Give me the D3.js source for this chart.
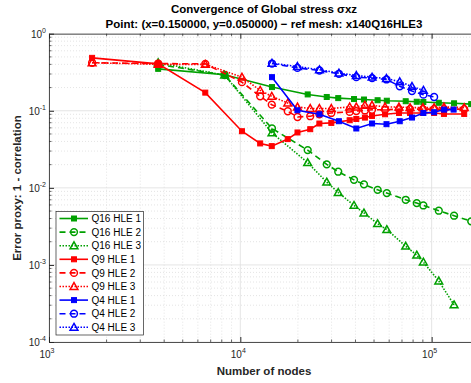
<!DOCTYPE html>
<html><head><meta charset="utf-8">
<script src="https://cdn.jsdelivr.net/npm/d3@7"></script>
<style>body{margin:0;background:#fff}svg{display:block;font-family:"Liberation Sans",Arial,sans-serif}</style>
</head><body><svg id="c" width="471" height="383"></svg>
<script>
// ---- data ----
const titleLines = ["Convergence of Global stress σxz", "Point: (x=0.150000, y=0.050000) − ref mesh: x140Q16HLE3"];
const xLabel = "Number of nodes";
const yLabel = "Error proxy: 1 - correlation";
const xTickExps = [3, 4, 5];
const yTickExps = [0, -1, -2, -3, -4];

const q16Nodes = [3721, 8281, 14641, 22500, 28300, 32500, 39300, 44300, 52200, 58300, 73200, 83600, 90500, 109000, 131000, 161000];
const q16Hle1 = [0.35, 0.293, 0.203, 0.163, 0.151, 0.146, 0.142, 0.140, 0.137, 0.135, 0.133, 0.131, 0.130, 0.127, 0.125, 0.122];
const q16Hle2 = [0.40, 0.29, 0.0589, 0.0309, 0.0202, 0.0162, 0.0127, 0.0111, 0.00942, 0.00855, 0.0070, 0.00634, 0.00591, 0.00505, 0.00435, 0.00368];
const q16Hle3 = [0.42, 0.29, 0.0517, 0.0212, 0.01186, 0.0087, 0.00592, 0.00472, 0.00343, 0.00287, 0.00175, 0.00134, 0.00109, 0.000618, 0.000303];

const q9Nodes = [1680, 3720, 6560, 10200, 12700, 14600, 17700, 19900, 23200, 25900, 29900, 37300, 40400, 44800, 48800, 57100, 67500, 77100, 90000, 103000, 116000, 148000];
const q9Hle1 = [0.486, 0.406, 0.172, 0.0543, 0.0377, 0.0348, 0.0429, 0.0523, 0.0577, 0.0683, 0.0696, 0.0754, 0.0783, 0.0816, 0.0857, 0.0901, 0.0937, 0.0937, 0.0937, 0.0937, 0.091, 0.091];
const q9Hle2 = [0.42, 0.41, 0.406, 0.235, 0.154, 0.120, 0.0986, 0.083, 0.085, 0.090, 0.0937, 0.0966, 0.099, 0.101, 0.103, 0.103, 0.105, 0.105, 0.105, 0.105, 0.105, 0.105];
const q9Hle3 = [0.42, 0.40, 0.40, 0.273, 0.184, 0.154, 0.126, 0.112, 0.107, 0.107, 0.107, 0.112, 0.112, 0.118, 0.118, 0.112, 0.112, 0.11, 0.11, 0.11, 0.112, 0.11];

const q4Nodes = [14641, 19881, 25921, 32761, 40401, 48841, 58081, 68121, 78961, 90601, 103041, 116281, 130321];
const q4Hle1 = [0.273, 0.1015, 0.090, 0.0732, 0.0589, 0.0684, 0.067, 0.0732, 0.0817, 0.0937, 0.0957, 0.1036, 0.1036];
const q4Hle2 = [0.41, 0.36, 0.333, 0.302, 0.273, 0.265, 0.255, 0.208, 0.18, 0.162, 0.151];
const q4Hle3 = [0.414, 0.375, 0.340, 0.308, 0.287, 0.273, 0.262, 0.238, 0.207, 0.184];

const seriesNames = ["Q16 HLE 1","Q16 HLE 2","Q16 HLE 3","Q9 HLE 1","Q9 HLE 2","Q9 HLE 3","Q4 HLE 1","Q4 HLE 2","Q4 HLE 3"];

// ---- build ----
const GREEN = "#00a000", RED = "#ff0000", BLUE = "#0000ff";
const styles = {
  1: {dash: null, marker: "square"},
  2: {dash: "6,4", marker: "circle"},
  3: {dash: "1.5,1.5", marker: "triangle"}
};
const series = [
  {name: seriesNames[0], nodes: q16Nodes, vals: q16Hle1, color: GREEN, s: 1},
  {name: seriesNames[1], nodes: q16Nodes, vals: q16Hle2, color: GREEN, s: 2},
  {name: seriesNames[2], nodes: q16Nodes, vals: q16Hle3, color: GREEN, s: 3},
  {name: seriesNames[3], nodes: q9Nodes, vals: q9Hle1, color: RED, s: 1},
  {name: seriesNames[4], nodes: q9Nodes, vals: q9Hle2, color: RED, s: 2},
  {name: seriesNames[5], nodes: q9Nodes, vals: q9Hle3, color: RED, s: 3},
  {name: seriesNames[6], nodes: q4Nodes, vals: q4Hle1, color: BLUE, s: 1},
  {name: seriesNames[7], nodes: q4Nodes, vals: q4Hle2, color: BLUE, s: 2},
  {name: seriesNames[8], nodes: q4Nodes, vals: q4Hle3, color: BLUE, s: 3}
];

const L = 49, R = 480, T = 33.7, B = 342;
const x = d3.scaleLog().domain([1e3, 1.79e5]).range([L, R]);
const y = d3.scaleLog().domain([1e-4, 1]).range([B, T]);
const svg = d3.select("#c");

// grid
const g = svg.append("g");
const xMinor = [], yMinor = [];
for (let e = 3; e <= 5; e++) for (let k = 2; k <= 9; k++) { const v = k * Math.pow(10, e); if (v < 1.79e5) xMinor.push(v); }
for (let e = -4; e <= -1; e++) for (let k = 2; k <= 9; k++) yMinor.push(k * Math.pow(10, e));
g.selectAll(".xm").data(xMinor).enter().append("line")
  .attr("x1", d => x(d)).attr("x2", d => x(d)).attr("y1", T).attr("y2", B)
  .attr("stroke", "#d8d8d8").attr("stroke-width", 0.7).attr("stroke-dasharray", "1,2");
g.selectAll(".ym").data(yMinor).enter().append("line")
  .attr("y1", d => y(d)).attr("y2", d => y(d)).attr("x1", L).attr("x2", R)
  .attr("stroke", "#d8d8d8").attr("stroke-width", 0.7).attr("stroke-dasharray", "1,2");
g.selectAll(".xM").data(xTickExps.map(e => Math.pow(10, e))).enter().append("line")
  .attr("x1", d => x(d)).attr("x2", d => x(d)).attr("y1", T).attr("y2", B)
  .attr("stroke", "#dedede").attr("stroke-width", 0.8);
g.selectAll(".yM").data(yTickExps.map(e => Math.pow(10, e))).enter().append("line")
  .attr("y1", d => y(d)).attr("y2", d => y(d)).attr("x1", L).attr("x2", R)
  .attr("stroke", "#dedede").attr("stroke-width", 0.8);

// axes
const axCol = "#262626";
const xAxB = d3.axisBottom(x).tickValues(xTickExps.map(e => Math.pow(10, e))).tickFormat("").tickSizeInner(-5).tickSizeOuter(0);
const xAxT = d3.axisTop(x).tickValues(xTickExps.map(e => Math.pow(10, e))).tickFormat("").tickSizeInner(-5).tickSizeOuter(0);
const yAxL = d3.axisLeft(y).tickValues(yTickExps.map(e => Math.pow(10, e))).tickFormat("").tickSizeInner(-5).tickSizeOuter(0);
function styleAxis(sel) { sel.selectAll("path,line").attr("stroke", axCol); sel.select("path").attr("stroke-width", 0.8); }
svg.append("g").attr("transform", `translate(0,${B})`).call(xAxB).call(styleAxis);
svg.append("g").attr("transform", `translate(0,${T})`).call(xAxT).call(styleAxis);
svg.append("g").attr("transform", `translate(${L},0)`).call(yAxL).call(styleAxis);
// minor ticks
svg.append("g").selectAll("line").data(xMinor).enter().append("line")
  .attr("x1", d => x(d)).attr("x2", d => x(d)).attr("y1", B).attr("y2", B - 2.5).attr("stroke", axCol).attr("stroke-width", 0.7);
svg.append("g").selectAll("line").data(xMinor).enter().append("line")
  .attr("x1", d => x(d)).attr("x2", d => x(d)).attr("y1", T).attr("y2", T + 2.5).attr("stroke", axCol).attr("stroke-width", 0.7);
svg.append("g").selectAll("line").data(yMinor).enter().append("line")
  .attr("y1", d => y(d)).attr("y2", d => y(d)).attr("x1", L).attr("x2", L + 2.5).attr("stroke", axCol).attr("stroke-width", 0.7);

// tick labels
xTickExps.forEach(e => {
  const t = svg.append("text").attr("x", x(Math.pow(10, e)) - 2).attr("y", 358).attr("text-anchor", "middle")
    .attr("font-size", 10).attr("fill", axCol);
  t.append("tspan").text("10");
  t.append("tspan").attr("dy", -5).attr("font-size", 7).text(e);
});
yTickExps.forEach(e => {
  const t = svg.append("text").attr("x", 46).attr("y", y(Math.pow(10, e)) + 4).attr("text-anchor", "end")
    .attr("font-size", 10).attr("fill", axCol);
  t.append("tspan").text("10");
  t.append("tspan").attr("dy", -5).attr("font-size", 7).text(e);
});

// labels
svg.append("text").attr("x", 264).attr("y", 375).attr("text-anchor", "middle").attr("font-size", 11.5)
  .attr("font-weight", "bold").attr("fill", axCol).text(xLabel);
svg.append("text").attr("transform", "translate(21,188) rotate(-90)").attr("text-anchor", "middle")
  .attr("font-size", 11.5).attr("font-weight", "bold").attr("fill", axCol).text(yLabel);
svg.append("text").attr("x", 264).attr("y", 13).attr("text-anchor", "middle").attr("font-size", 11.5)
  .attr("font-weight", "bold").attr("fill", "#000").text(titleLines[0]);
svg.append("text").attr("x", 264).attr("y", 28).attr("text-anchor", "middle").attr("font-size", 11.5)
  .attr("font-weight", "bold").attr("fill", "#000").text(titleLines[1]);

// markers
function drawMarker(sel, type, cx, cy, color) {
  if (type === "square") {
    sel.append("rect").attr("x", cx - 2.5).attr("y", cy - 2.5).attr("width", 5).attr("height", 5)
      .attr("fill", color).attr("stroke", color).attr("stroke-width", 1);
  } else if (type === "circle") {
    sel.append("circle").attr("cx", cx).attr("cy", cy).attr("r", 3.4)
      .attr("fill", "none").attr("stroke", color).attr("stroke-width", 1.5);
  } else {
    const h = 3.9;
    sel.append("path").attr("d", `M${cx},${cy - h}L${cx + h},${cy + h * 0.75}L${cx - h},${cy + h * 0.75}Z`)
      .attr("fill", "none").attr("stroke", color).attr("stroke-width", 1.5);
  }
}

svg.append("clipPath").attr("id", "clip").append("rect").attr("x", L).attr("y", T).attr("width", R - L).attr("height", B - T);
const plot = svg.append("g").attr("clip-path", "url(#clip)");
const line = d3.line().x(d => x(d[0])).y(d => y(d[1]));
series.forEach(s => {
  const pts = s.vals.map((v, i) => [s.nodes[i], v]);
  const st = styles[s.s];
  plot.append("path").attr("d", line(pts)).attr("fill", "none").attr("stroke", s.color)
    .attr("stroke-width", 1.6).attr("stroke-dasharray", st.dash);
  const mg = plot.append("g");
  pts.forEach(p => drawMarker(mg, st.marker, x(p[0]), y(p[1]), s.color));
});

// legend
const lx = 56, ly = 211.5, lw = 87.5, lh = 123.5;
const lg = svg.append("g");
lg.append("rect").attr("x", lx).attr("y", ly).attr("width", lw).attr("height", lh)
  .attr("fill", "#fff").attr("stroke", axCol).attr("stroke-width", 0.7);
series.forEach((s, i) => {
  const cy = 218.5 + i * 13.6;
  const st = styles[s.s];
  lg.append("line").attr("x1", 59.5).attr("x2", 88).attr("y1", cy).attr("y2", cy)
    .attr("stroke", s.color).attr("stroke-width", 1.6).attr("stroke-dasharray", st.dash);
  drawMarker(lg, st.marker, 74, cy, s.color);
  lg.append("text").attr("x", 91.5).attr("y", cy + 3.6).attr("font-size", 10).attr("fill", "#000").text(s.name);
});
</script></body></html>
